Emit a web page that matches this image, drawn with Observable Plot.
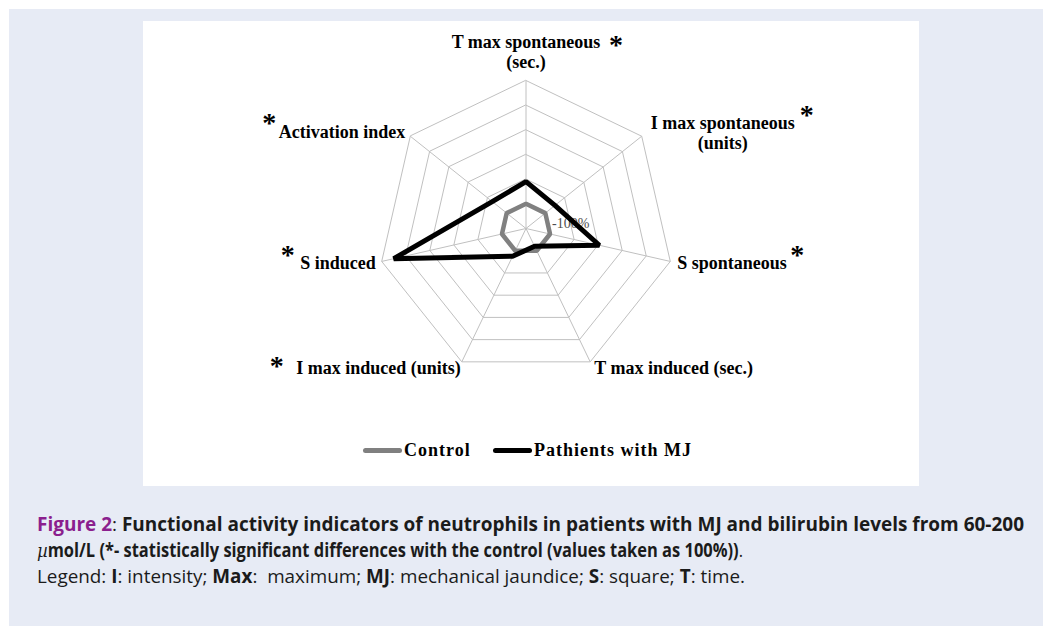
<!DOCTYPE html>
<html>
<head>
<meta charset="utf-8">
<script src="https://cdn.jsdelivr.net/npm/d3@7"></script>
<script src="https://cdn.jsdelivr.net/npm/@observablehq/plot@0.6"></script>
<style>
  html, body { margin: 0; padding: 0; background: #ffffff; }
  body { width: 1043px; height: 626px; position: relative; overflow: hidden; }
  #outer { position: absolute; left: 9px; top: 9px; width: 1034px; height: 617px; background: #E7EBF5; }
  #panel { position: absolute; left: 143px; top: 21px; width: 776px; height: 465px; background: #ffffff; }
  #chart { position: absolute; left: 0; top: 0; }
  #legend { position: absolute; left: 0; top: 410px; width: 776px; height: 40px;
            font-family: "Liberation Serif", "Times New Roman", serif; font-weight: bold; font-size: 18px; letter-spacing: 1px; color: #000; }
  .leg { position: absolute; top: 7px; display: flex; align-items: center; height: 24px; }
  .sw { display: inline-block; width: 39px; height: 5px; border-radius: 3px; margin-right: 2px; }
  g[aria-label="category label"] text, g[aria-label="asterisk"] text { letter-spacing: 0.3px; }
  .ln { position: absolute; left: 37px; white-space: nowrap; font-family: "Open Sans", "Lato", sans-serif; font-size: 19px; line-height: 24px; color: #1b1b1b; transform-origin: 0 50%; }
  .ln b { font-weight: 700; }
  .fig { color: #8B1F8E; }
  .mu { font-family: "DejaVu Serif", serif; font-style: italic; font-weight: normal; }
</style>
</head>
<body>
<div id="outer"></div>
<div id="panel">
  <div id="chart"></div>
  <div id="legend"></div>
</div>
<div class="ln" id="l1" style="top:512px"><b><span class="fig">Figure 2</span></b>: <b>Functional activity indicators of neutrophils in patients with MJ and bilirubin levels from 60-200</b></div>
<div class="ln" id="l2" style="top:538px"><i class="mu">µ</i><b>mol/L (*- statistically significant differences with the control (values taken as 100%))</b>.</div>
<div class="ln" id="l3" style="top:564px">Legend: <b>I</b>: intensity; <b>Max</b>:&nbsp; maximum; <b>MJ</b>: mechanical jaundice; <b>S</b>: square; <b>T</b>: time.</div>
<script>
// ---------- data ----------
const categories = ["T max spontaneous", "I max spontaneous", "S spontaneous", "T max induced", "I max induced", "S induced", "Activation index"];
const categoryLabels = ["T max spontaneous\n(sec.)", "I max spontaneous\n(units)", "S spontaneous", "T max induced (sec.)", "I max induced (units)", "S induced", "Activation index"];
const significant = [true, true, true, false, true, true, true];
const controlValues = [100, 100, 100, 100, 100, 100, 100];
const patientValues = [190, 150, 305, 80, 125, 550, 175];
const seriesNames = ["Control", "Pathients with MJ"];
const seriesColors = ["#808080", "#000000"];
const ringTicks = [100, 200, 300, 400, 500, 600];
const tickLabels = ["100%"];

// ---------- geometry helpers ----------
const n = categories.length;
const maxV = ringTicks[ringTicks.length - 1];
const ang = i => i * 2 * Math.PI / n;
const px = (v, a) => v * Math.sin(a);
const py = (v, a) => v * Math.cos(a);

const W = 776, H = 410, CX = 382.5, CY = 207, R = 148;
const k = R / maxV;

const rings = ringTicks.flatMap(r => categories.map((c, i) => ({ring: r, x: px(r, ang(i)), y: py(r, ang(i))})));
const spokes = categories.map((c, i) => ({x: px(maxV, ang(i)), y: py(maxV, ang(i))}));
const series = [controlValues, patientValues].flatMap((vals, s) =>
  vals.map((v, i) => ({series: seriesNames[s], x: px(v, ang(i)), y: py(v, ang(i))})));

// label offsets (px) relative to each outer vertex
const labelStyle = [
  {anchor: "middle", dx: 0, dy: -29},
  {anchor: "middle", dx: 81, dy: -4},
  {anchor: "start", dx: 7, dy: 1},
  {anchor: "start", dx: 4, dy: 6},
  {anchor: "end", dx: -1, dy: 6},
  {anchor: "end", dx: -6, dy: 1},
  {anchor: "end", dx: -5, dy: -5}
];
const starStyle = [
  {dx: 90, dy: -35}, {dx: 165, dy: -21}, {dx: 127, dy: -6}, null,
  {dx: -185, dy: 4}, {dx: -94, dy: -6}, {dx: -141, dy: -13}
];

const marks = [
  Plot.line(rings, {x: "x", y: "y", z: "ring", curve: "linear-closed", stroke: "#C0C0C0", strokeWidth: 1}),
  Plot.link(spokes, {x1: 0, y1: 0, x2: "x", y2: "y", stroke: "#C0C0C0", strokeWidth: 1}),
  Plot.text(tickLabels, {x: () => px(ringTicks[0] * 1.07, 80 * Math.PI / 180), y: () => py(ringTicks[0] * 1.07, 80 * Math.PI / 180),
    text: d => "-" + d, textAnchor: "start", fill: "#4d4d4d", fontSize: 14, fontFamily: "Liberation Serif"}),
  Plot.line(series.filter(d => d.series === seriesNames[0]), {x: "x", y: "y", curve: "linear-closed", stroke: seriesColors[0], strokeWidth: 4.5, strokeLinejoin: "miter"}),
  Plot.line(series.filter(d => d.series === seriesNames[1]), {x: "x", y: "y", curve: "linear-closed", stroke: seriesColors[1], strokeWidth: 5, strokeLinejoin: "miter"})
];
categoryLabels.forEach((lab, i) => {
  const st = labelStyle[i];
  marks.push(Plot.text([lab], {x: () => px(maxV, ang(i)), y: () => py(maxV, ang(i)), text: d => d,
    textAnchor: st.anchor, dx: st.dx, dy: st.dy, lineAnchor: "middle", lineHeight: 1.12,
    fontSize: 18, fontWeight: "bold", fontFamily: "Liberation Serif", fill: "#000", ariaLabel: "category label"}));
  const ss = starStyle[i];
  if (significant[i] && ss) {
    marks.push(Plot.text(["*"], {x: () => px(maxV, ang(i)), y: () => py(maxV, ang(i)), text: d => d,
      textAnchor: "middle", dx: ss.dx, dy: ss.dy, lineAnchor: "middle",
      fontSize: 28, fontWeight: "bold", fontFamily: "Liberation Serif", fill: "#000", ariaLabel: "asterisk"}));
  }
});

const chart = Plot.plot({
  width: W, height: H,
  marginTop: 0, marginRight: 0, marginBottom: 0, marginLeft: 0,
  x: {domain: [-CX / k, (W - CX) / k], axis: null},
  y: {domain: [-(H - CY) / k, CY / k], axis: null},
  style: {background: "transparent", overflow: "visible"},
  marks
});
document.getElementById("chart").appendChild(chart);

// legend
const legend = document.getElementById("legend");
const legPos = [220, 350];
seriesNames.forEach((name, s) => {
  const item = document.createElement("div");
  item.className = "leg";
  item.style.left = legPos[s] + "px";
  item.innerHTML = `<span class="sw" style="background:${seriesColors[s]}"></span><span>${name}</span>`;
  legend.appendChild(item);
});

// fit caption lines to the reference widths
const targets = {l1: 987, l2: 706, l3: 708};
for (const id in targets) {
  const el = document.getElementById(id);
  const w = el.getBoundingClientRect().width;
  el.style.transform = `scaleX(${targets[id] / w})`;
}
</script>
</body>
</html>
